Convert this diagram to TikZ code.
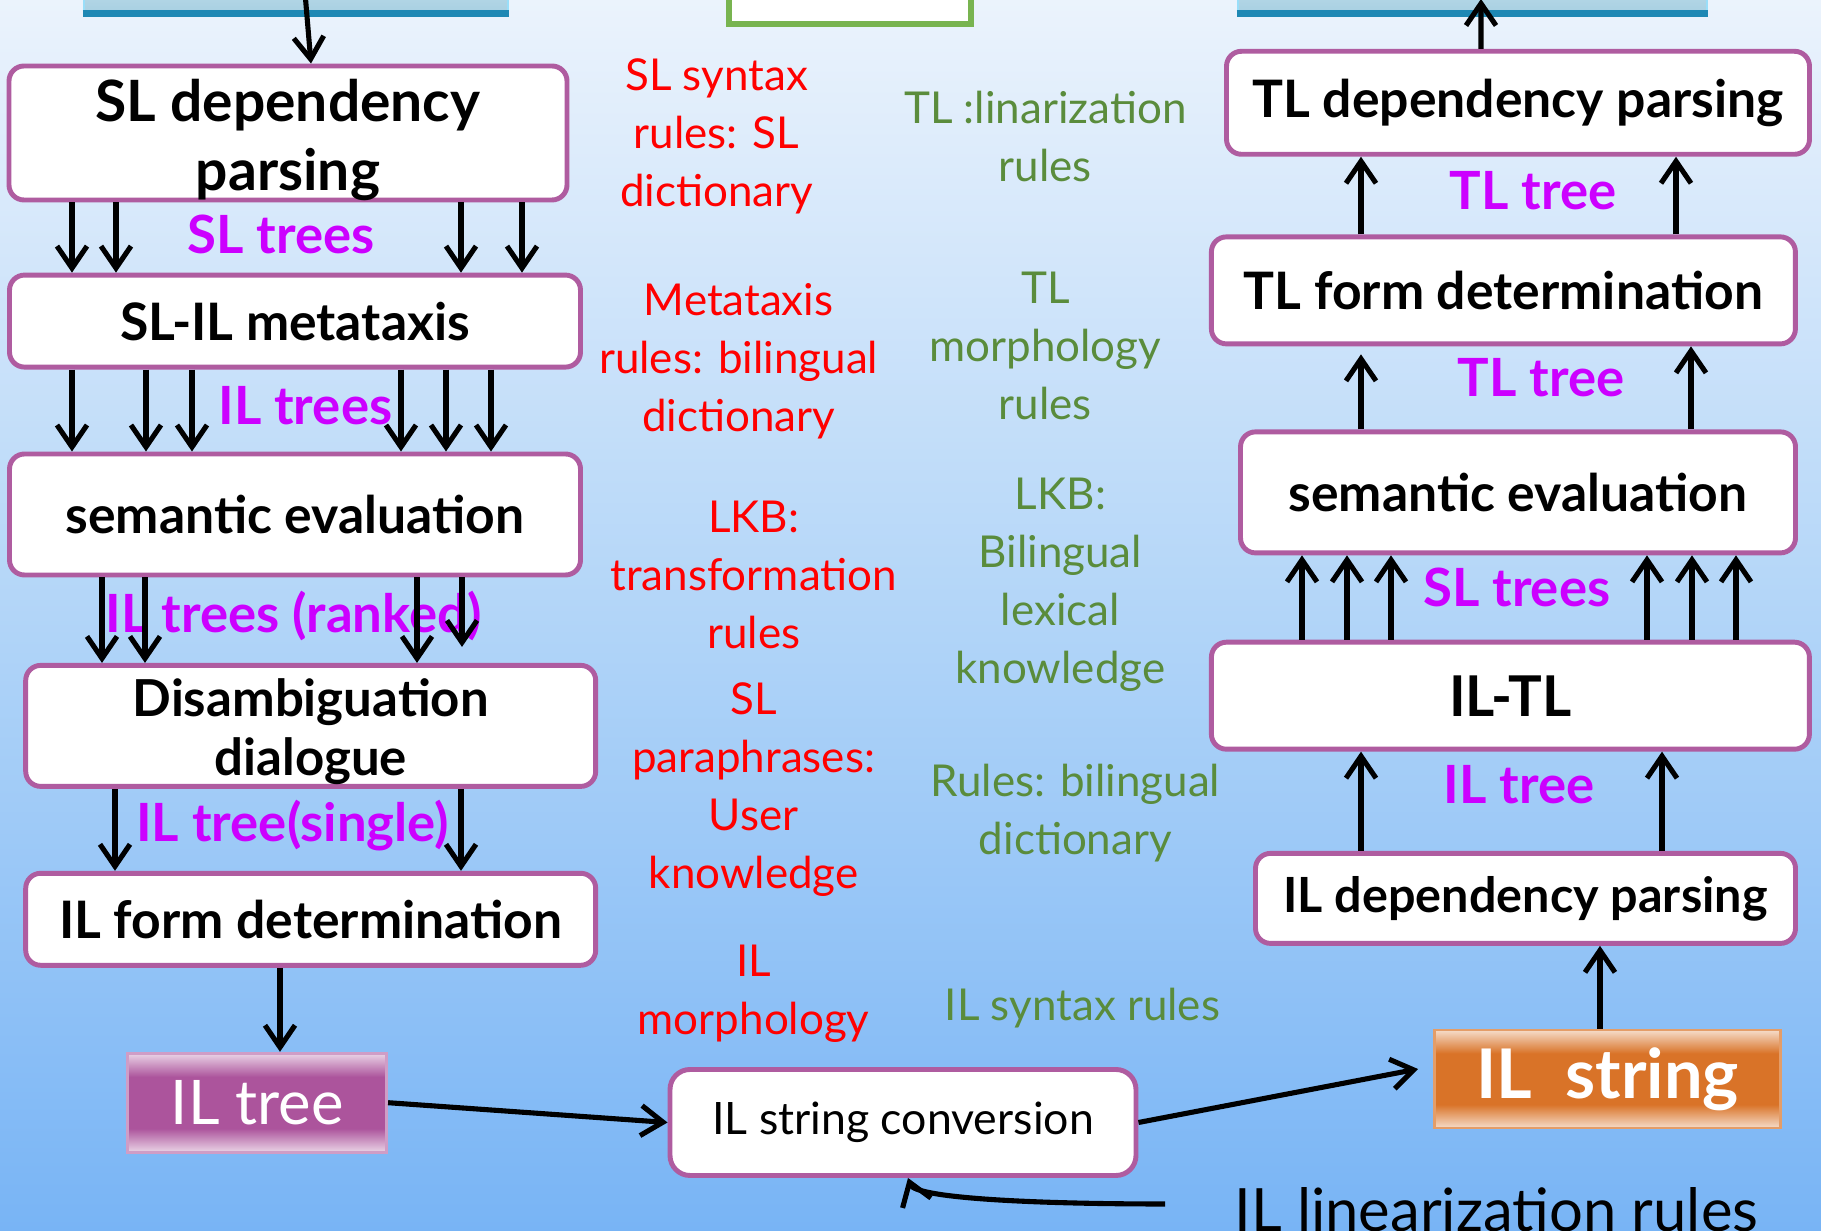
\documentclass[tikz,border=0pt]{standalone}
\usepackage{fontspec}
\setmainfont{Lato}
\usetikzlibrary{arrows.meta, positioning, calc}

\definecolor{boxpurple}{RGB}{175,92,160}
\definecolor{labelmagenta}{RGB}{204,0,255}
\definecolor{rulered}{RGB}{255,0,0}
\definecolor{rulegreen}{RGB}{90,140,60}
\definecolor{bgtop}{RGB}{235,243,252}
\definecolor{bgmid}{RGB}{178,213,248}
\definecolor{bgbot}{RGB}{120,180,245}
\definecolor{ilpurple}{RGB}{172,84,156}
\definecolor{ilorange}{RGB}{217,115,40}
\definecolor{srcblue}{RGB}{168,208,226}
\definecolor{edgeblue}{RGB}{30,136,180}
\definecolor{topgreen}{RGB}{120,180,80}

% glossy fills for the IL boxes
\pgfdeclareverticalshading{glosspurple}{100bp}{color(0bp)=(ilpurple!25!white); color(25bp)=(ilpurple!25!white);
  color(37bp)=(ilpurple); color(63bp)=(ilpurple); color(75bp)=(ilpurple!25!white); color(100bp)=(ilpurple!25!white)}
\pgfdeclareverticalshading{glossorange}{100bp}{color(0bp)=(ilorange!25!white); color(25bp)=(ilorange!25!white);
  color(37bp)=(ilorange); color(63bp)=(ilorange); color(75bp)=(ilorange!25!white); color(100bp)=(ilorange!25!white)}

\begin{document}
\begin{tikzpicture}[
    stage/.style={rectangle, rounded corners=1.5mm, draw=boxpurple, line width=1.4pt, fill=white, align=center, font=\bfseries\fontsize{14.7}{18}\selectfont},
    arrow/.style={-{Straight Barb[length=2.2mm, width=3mm]}, line width=1.45pt},
    treelabel/.style={font=\bfseries\fontsize{15}{18}\selectfont, text=labelmagenta},
    redrule/.style={align=center, text=rulered, font=\fontsize{12.5}{16.5}\selectfont},
    greenrule/.style={align=center, text=rulegreen, font=\fontsize{12.5}{16.5}\selectfont},
    langbox/.style={rectangle, shade, top color=srcblue!50!white, bottom color=srcblue, draw=cyan!40, line width=0.6pt},
    ilbox/.style={rectangle, shade, shading=#1, line width=0.8pt, text=white}
]

% Background
\useasboundingbox (0,0) rectangle (18.21,-12.31);
\fill[top color=bgtop, bottom color=bgbot, middle color=bgmid] (0,0) rectangle (18.21,-12.31);

% Boxes cut off at the top
\node[langbox, minimum width=4.24cm, minimum height=0.62cm] (srcbox) at (2.96,0.19) {};
\node[langbox, minimum width=4.69cm, minimum height=0.62cm] (tgtbox) at (14.725,0.19) {};
\draw[edgeblue, line width=2pt] (srcbox.south west) -- (srcbox.south east);
\draw[edgeblue, line width=2pt] (tgtbox.south west) -- (tgtbox.south east);
\node[rectangle, draw=topgreen, line width=1.5pt, fill=white, minimum width=2.42cm, minimum height=0.74cm] (midbox) at (8.50,0.13) {};
\coordinate (tgtin) at (14.81,0.01);

% Analysis path (left side)
\node[stage, minimum width=5.58cm, minimum height=1.34cm,
  label={[align=center, yshift=-0.7mm, font=\bfseries\fontsize{16.2}{19.5}\selectfont]center:SL dependency\\parsing}] (b1) at (2.880,-1.330) {};
\node[stage, minimum width=5.71cm, minimum height=0.92cm] (b2) at (2.950,-3.211) {SL-IL metataxis};
\node[stage, minimum width=5.71cm, minimum height=1.21cm] (b3) at (2.950,-5.145) {semantic evaluation};
\node[stage, minimum width=5.70cm, minimum height=1.21cm,
  label={[align=center, yshift=-0.6mm, font=\bfseries\fontsize{14.5}{16.8}\selectfont]center:Disambiguation\\dialogue}] (b4) at (3.107,-7.259) {};
\node[stage, minimum width=5.70cm, minimum height=0.92cm] (b5) at (3.107,-9.193) {IL form determination};

% Synthesis path (right side)
\node[stage, minimum width=5.40cm, minimum height=0.90cm, font=\bfseries\fontsize{13.8}{17}\selectfont] (r1) at (15.255,-8.984) {IL dependency parsing};
\node[stage, minimum width=5.98cm, minimum height=1.07cm, font=\bfseries\fontsize{16}{19}\selectfont] (r2) at (15.104,-6.957) {IL-TL};
\node[stage, minimum width=5.55cm, minimum height=1.21cm] (r3) at (15.180,-4.924) {semantic evaluation};
\node[stage, minimum width=5.84cm, minimum height=1.07cm] (r4) at (15.034,-2.904) {TL form determination};
\node[stage, minimum width=5.83cm, minimum height=1.03cm] (r5) at (15.180,-1.028) {TL dependency parsing};

% IL boxes at the bottom
\node[ilbox=glosspurple, draw=boxpurple!60!white, minimum width=2.59cm, minimum height=0.99cm, font=\fontsize{17.5}{20}\selectfont] (iltree) at (2.572,-11.027) {IL tree};
\node[stage, rounded corners=2mm, minimum width=4.66cm, minimum height=1.06cm, font=\fontsize{12.7}{16}\selectfont] (ilconv) at (9.030,-11.225) {IL string conversion};
\node[ilbox=glossorange, draw=ilorange!70!white, minimum width=3.46cm, minimum height=0.98cm, font=\bfseries\fontsize{19.5}{22}\selectfont] (ilstring) at (16.074,-10.790) {IL\ \ string};
\node[anchor=west, font=\fontsize{17}{20}\selectfont] (linrules) at (12.22,-12.10) {IL linearization rules};
\coordinate (linstart) at (11.65,-12.04);

% Knowledge sources (middle)
\node[redrule] (synrules) at (7.166,-1.36) {SL syntax\\rules: SL\\dictionary};
\node[redrule] (metarules) at (7.386,-3.61) {Metataxis\\rules: bilingual\\dictionary};
\node[redrule] (lkbtrans) at (7.537,-5.75) {LKB:\\transformation\\rules};
\node[redrule] (paraphr) at (7.537,-7.90) {SL\\paraphrases:\\User\\knowledge};
\node[redrule] (ilmorph) at (7.537,-9.94) {IL\\morphology};
\node[greenrule] (tllin) at (10.453,-1.37) {TL :linarization\\rules};
\node[greenrule] (tlmorph) at (10.453,-3.46) {TL\\morphology\\rules};
\node[greenrule] (lkblex) at (10.604,-5.85) {LKB:\\Bilingual\\lexical\\knowledge};
\node[greenrule] (bidict) at (10.754,-8.13) {Rules: bilingual\\dictionary};
\node[greenrule] (ilsyn) at (10.824,-10.08) {IL syntax rules};

% Tree labels
\node[treelabel] at (2.811,-2.346) {SL trees};
\node[treelabel] at (3.054,-4.053) {IL trees};
\node[treelabel] at (2.938,-6.155) {IL trees (ranked)};
\node[treelabel] at (2.927,-8.258) {IL tree(single)};
\node[treelabel] at (15.191,-7.851) {IL tree};
\node[treelabel] at (15.168,-5.877) {SL trees};
\node[treelabel] at (15.412,-3.775) {TL tree};
\node[treelabel] at (15.330,-1.905) {TL tree};

% Analysis arrows
\draw[arrow] ([xshift=0.8mm]srcbox.center) -- ([xshift=2.3mm]b1.north);
\foreach \x in {0.72,1.16,4.61,5.22}
  \draw[arrow] (\x,0 |- b1.south) -- (\x,0 |- b2.north);
\foreach \x in {0.72,1.46,1.92,4.01,4.46,4.91}
  \draw[arrow] (\x,0 |- b2.south) -- (\x,0 |- b3.north);
\foreach \x in {1.02,1.45,4.17}
  \draw[arrow] (\x,0 |- b3.south) -- (\x,0 |- b4.north);
\draw[arrow, shorten >=1.6mm] (4.62,0 |- b3.south) -- (4.62,0 |- b4.north);
\foreach \x in {1.15,4.61}
  \draw[arrow] (\x,0 |- b4.south) -- (\x,0 |- b5.north);
\draw[arrow] (2.80,0 |- b5.south) -- (2.80,0 |- iltree.north);

% IL string arrows
\draw[arrow] (iltree.east) -- (ilconv.west);
\draw[arrow] (ilconv.east) -- ([xshift=-1.5mm,yshift=1mm]ilstring.west);
\draw[arrow] (linstart) .. controls (10.3,-12.04) and (9.15,-11.98) .. ([xshift=0.5mm]ilconv.south);

% Synthesis arrows
\draw[arrow] (16.00,0 |- ilstring.north) -- (16.00,0 |- r1.south);
\foreach \x in {13.61,16.62}
  \draw[arrow] (\x,0 |- r1.north) -- (\x,0 |- r2.south);
\foreach \x in {13.02,13.47,13.91,16.47,16.92,17.36}
  \draw[arrow] (\x,0 |- r2.north) -- (\x,0 |- r3.south);
\draw[arrow, shorten >=0.8mm] (13.61,0 |- r3.north) -- (13.61,0 |- r4.south);
\draw[arrow] (16.91,0 |- r3.north) -- (16.91,0 |- r4.south);
\foreach \x in {13.61,16.76}
  \draw[arrow] (\x,0 |- r4.north) -- (\x,0 |- r5.south);
\draw[arrow] ([xshift=-3.7mm]r5.north) -- (tgtin);

\end{tikzpicture}
\end{document}
